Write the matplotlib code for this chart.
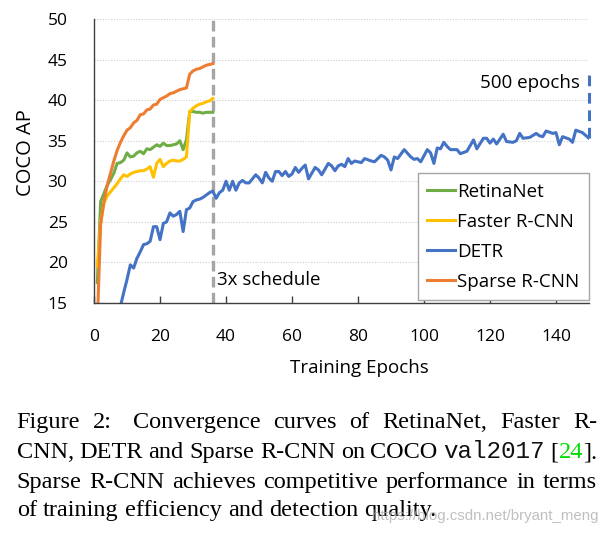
"""
Convergence curves (COCO AP vs. training epochs) for RetinaNet, Faster R-CNN,
DETR and Sparse R-CNN, with the paper-style caption underneath.
"""
import matplotlib

matplotlib.use("Agg")
import matplotlib.pyplot as plt

# ---- data ----
EPOCHS_36 = list(range(1, 37))
RETINANET_AP = [17.5, 27.5, 28.5, 29.5, 30.2, 31.0, 32.2, 32.3, 32.6, 33.5,
                33.0, 33.1, 33.5, 33.7, 33.4, 34.0, 33.9, 34.2, 34.5, 34.3,
                34.7, 34.4, 34.4, 34.5, 34.6, 35.0, 33.9, 35.1, 38.6, 38.6,
                38.5, 38.5, 38.4, 38.5, 38.5, 38.5]
FASTER_RCNN_AP = [19.5, 25.0, 27.3, 28.2, 28.7, 29.2, 29.7, 30.3, 30.8, 30.6,
                  30.9, 31.1, 31.2, 31.3, 31.3, 31.5, 31.8, 30.5, 32.2, 32.7,
                  31.8, 32.2, 32.5, 32.6, 32.5, 32.5, 32.7, 33.0, 38.6, 39.0,
                  39.3, 39.5, 39.6, 39.8, 39.9, 40.2]
SPARSE_RCNN_AP = [12.5, 24.7, 27.5, 29.5, 31.0, 32.5, 33.8, 34.8, 35.6, 36.3,
                  36.6, 37.2, 37.5, 38.2, 38.3, 38.8, 38.9, 39.4, 39.5, 40.1,
                  40.3, 40.5, 40.8, 40.9, 41.1, 41.3, 41.4, 41.5, 43.2, 43.6,
                  43.8, 43.9, 44.1, 44.3, 44.4, 44.5]

DETR_EPOCHS = [8, 9, 10, 11, 12, 13, 14, 15, 16, 17, 18, 19, 20, 21, 22, 23,
               24, 25, 26, 27, 28, 29, 30, 31, 32, 33, 34, 35, 36, 37, 38, 39,
               40, 41, 42, 43, 44, 45, 46, 47, 49, 50, 51, 52, 53, 54, 55, 56,
               57, 58, 59, 60, 61, 62, 63, 64, 65, 67, 68, 69, 71, 72, 73, 74,
               75, 76, 77, 78, 79, 81, 82, 84, 85, 87, 88, 89, 90, 91, 92, 94,
               96, 97, 98, 99, 101, 102, 103, 104, 105, 106, 107, 108, 110, 111,
               113, 115, 116, 118, 119, 120, 121, 122, 123, 124, 125, 127, 128,
               129, 130, 132, 134, 135, 136, 137, 139, 140, 141, 142, 144, 145,
               146, 148, 150]
DETR_AP = [14.6, 16.3, 17.9, 19.7, 19.3, 20.5, 21.3, 22.2, 22.3, 22.6, 24.4,
           24.4, 22.8, 24.8, 25.0, 26.1, 25.7, 25.9, 26.3, 23.8, 26.5, 26.7,
           27.5, 27.7, 27.8, 28.0, 28.3, 28.6, 28.8, 27.9, 28.6, 28.9, 30.0,
           28.9, 30.0, 28.9, 29.8, 30.1, 29.8, 29.8, 30.8, 30.4, 29.8, 31.1,
           30.4, 30.0, 31.2, 31.2, 30.7, 31.2, 30.6, 30.9, 31.7, 31.1, 31.6,
           32.0, 30.3, 31.7, 31.4, 30.8, 32.2, 31.9, 31.3, 31.9, 32.1, 31.8,
           32.8, 32.2, 32.5, 32.3, 32.8, 32.5, 32.4, 33.2, 33.0, 32.6, 31.4,
           33.0, 32.8, 33.9, 33.0, 32.7, 32.8, 32.4, 33.9, 33.5, 32.2, 34.1,
           34.0, 34.8, 34.3, 33.9, 33.9, 33.4, 33.7, 35.1, 34.0, 35.3, 35.3,
           34.7, 35.2, 34.6, 35.2, 35.8, 34.9, 34.8, 35.0, 35.9, 35.3, 35.4,
           35.9, 35.6, 35.5, 36.2, 35.9, 36.0, 34.5, 35.5, 35.2, 34.8, 36.3,
           36.0, 35.3]
DETR_500EP_AP = 43.4          # top of the dashed "500 epochs" marker
SCHEDULE_3X = 36

COLORS = {"RetinaNet": "#70ad47", "Faster R-CNN": "#ffc000",
          "DETR": "#4472c4", "Sparse R-CNN": "#ed7d31"}

X_TICKS = [0, 20, 40, 60, 80, 100, 120, 140]
Y_TICKS = [15, 20, 25, 30, 35, 40, 45, 50]

CAPTION_LINES = [
    [[("Figure", None)], [("2:", None)], [("Convergence", None)], [("curves", None)],
     [("of", None)], [("RetinaNet,", None)], [("Faster", None)], [("R-", None)]],
    [[("CNN,", None)], [("DETR", None)], [("and", None)], [("Sparse", None)],
     [("R-CNN", None)], [("on", None)], [("COCO", None)], [("val2017", "mono")],
     [("[", None), ("24", "green"), ("].", None)]],
    [[(w, None)] for w in "Sparse R-CNN achieves competitive performance in terms".split()],
    [[(w, None)] for w in "of training efficiency and detection quality.".split()],
]

SANS = ["Open Sans", "DejaVu Sans"]
SERIF = ["Liberation Serif", "DejaVu Serif"]


def draw_caption(fig, lines, x0, x1, baselines, size):
    """Justified caption: every line but the last is stretched to [x0, x1]."""
    renderer = fig.canvas.get_renderer()
    fig_w = fig.get_figwidth() * fig.dpi
    styles = {None: dict(family=SERIF, color="black"),
              "mono": dict(family=["Liberation Mono", "DejaVu Sans Mono"], color="#111111"),
              "green": dict(family=SERIF, color="#00dd00")}
    probe = fig.text(0, 0, "a a", size=size, family=SERIF)
    probe2 = fig.text(0, 0, "aa", size=size, family=SERIF)
    space = (probe.get_window_extent(renderer).width
             - probe2.get_window_extent(renderer).width) / fig_w
    probe.remove()
    probe2.remove()

    for li, (words, y) in enumerate(zip(lines, baselines)):
        placed = []
        for word in words:
            runs = []
            for txt, st in word:
                t = fig.text(0, y, txt, size=size, va="baseline", ha="left", **styles[st])
                runs.append((t, t.get_window_extent(renderer).width / fig_w))
            placed.append(runs)
        widths = [sum(w for _, w in runs) for runs in placed]
        # a colon takes a wider gap (TeX sentence spacing)
        weights = [1.6 if word[-1][0].endswith(":") else 1.0 for word in words[:-1]]
        last = li == len(lines) - 1
        unit = space if last else (x1 - x0 - sum(widths)) / sum(weights)
        x = x0
        for i, (runs, w) in enumerate(zip(placed, widths)):
            xx = x
            for t, rw in runs:
                t.set_x(xx)
                xx += rw
            if i < len(weights):
                x += w + unit * (1.0 if last else weights[i])


def main() -> None:
    plt.rcParams["font.family"] = SANS
    fig = plt.figure(figsize=(6.11, 5.37), dpi=100)
    ax = fig.add_axes([0.1539, 0.4358, 0.8101, 0.5288])

    ax.plot(EPOCHS_36, RETINANET_AP, color=COLORS["RetinaNet"], lw=2.2, label="RetinaNet")
    ax.plot(EPOCHS_36, FASTER_RCNN_AP, color=COLORS["Faster R-CNN"], lw=2.2, label="Faster R-CNN")
    ax.plot(DETR_EPOCHS, DETR_AP, color=COLORS["DETR"], lw=2.2, label="DETR")
    ax.plot(EPOCHS_36, SPARSE_RCNN_AP, color=COLORS["Sparse R-CNN"], lw=2.2, label="Sparse R-CNN")

    # 500-epoch DETR marker and the 3x schedule boundary
    ax.plot([DETR_EPOCHS[-1], DETR_EPOCHS[-1]], [DETR_AP[-1], DETR_500EP_AP],
            color=COLORS["DETR"], lw=2.2, dashes=(3.5, 2.2), clip_on=False)
    ax.axvline(SCHEDULE_3X, color="#a6a6a6", lw=2.4, dashes=(3.2, 1.6), zorder=1)
    ax.text(147.3, 42.1, "500 epochs", ha="right", va="center", fontsize=13.5)
    ax.text(37.4, 17.85, "3x schedule", ha="left", va="center", fontsize=13.5)

    ax.set_xlim(0, 150)
    ax.set_ylim(15, 50)
    ax.set_xticks(X_TICKS)
    ax.set_yticks(Y_TICKS)
    ax.tick_params(axis="x", direction="in", length=5, width=1, color="#404040",
                   pad=19, labelsize=12.5)
    ax.tick_params(axis="y", length=0, pad=19, labelsize=12.5)
    ax.grid(axis="y", color="#d0d0d0", lw=0.8, ls=(0, (1, 1.5)))
    ax.set_axisbelow(True)
    for side in ("top", "right"):
        ax.spines[side].set_visible(False)
    for side in ("left", "bottom"):
        ax.spines[side].set_color("#404040")
        ax.spines[side].set_linewidth(1.0)

    ax.set_xlabel("Training Epochs", fontsize=13.5)
    ax.xaxis.set_label_coords(0.537, -0.197)
    ax.set_ylabel("COCO AP", fontsize=14.5)
    ax.yaxis.set_label_coords(-0.117, 0.528)

    leg = ax.legend(loc="lower right", bbox_to_anchor=(1.0, 0.01), borderaxespad=0,
                    fontsize=13.5, handlelength=1.45, handletextpad=0.15,
                    labelspacing=0.64, borderpad=0.5, fancybox=False, framealpha=1)
    leg.get_frame().set_edgecolor("#a6a6a6")
    leg.get_frame().set_linewidth(1.0)

    draw_caption(fig, CAPTION_LINES, 0.0273, 0.977,
                 [0.2024, 0.1466, 0.0918, 0.0397], size=17.5)

    fig.text(0.609, 0.031, "https://blog.csdn.net/bryant_meng", fontsize=10.8,
             family=["Liberation Sans", "DejaVu Sans"], color="#b0b0b0", alpha=0.8,
             va="baseline")

    fig.savefig("out.png", dpi=100)


if __name__ == "__main__":
    main()
